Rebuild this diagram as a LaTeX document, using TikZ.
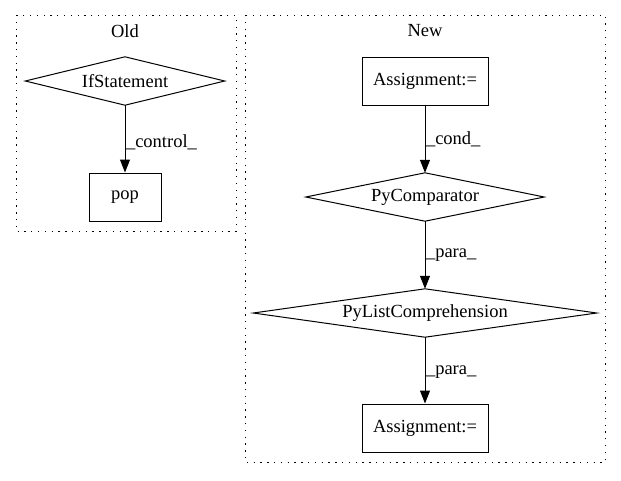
\documentclass[tikz,border=0pt]{standalone}
\usepackage{fontspec}
\setmainfont{Liberation Serif}
\usetikzlibrary{arrows.meta}
\begin{document}
\begin{tikzpicture}[x=1pt,y=-1pt,
  every node/.style={font=\fontsize{18.5}{20}\selectfont},
  cluster/.style={draw, line width=1pt, dash pattern=on 1.3pt off 5.5pt},
  boxnode/.style={draw, line width=1pt, rectangle, inner sep=0, anchor=center},
  decision/.style={rectangle, inner sep=0, anchor=center},
  diamondline/.style={line width=1pt, line join=miter},
  edge/.style={line width=1pt, -{Triangle[length=13pt,width=10pt]}},
  elabel/.style={right, inner sep=0.5pt}]
\useasboundingbox (0,0) rectangle (621,480);
% clusters
\draw[cluster] (16,15) rectangle (236,231);
\node (oldlabel) at (125,31) {Old};
\draw[cluster] (245,15) rectangle (605,462);
\node (newlabel) at (425,31) {New};
% Old nodes
\node[decision, minimum width=199pt, minimum height=48pt] (ifs) at (125,81) {IfStatement};
\draw[diamondline] (ifs.north) -- (ifs.east) -- (ifs.south) -- (ifs.west) -- cycle;
\node[boxnode, minimum width=72pt, minimum height=48pt] (pop) at (125,197) {pop};
% New nodes
\node[boxnode, minimum width=126pt, minimum height=48pt] (asg1) at (425,81) {Assignment:=};
\node[decision, minimum width=238pt, minimum height=48pt] (cmp) at (425,197) {PyComparator};
\draw[diamondline] (cmp.north) -- (cmp.east) -- (cmp.south) -- (cmp.west) -- cycle;
\node[decision, minimum width=343pt, minimum height=48pt] (lc) at (425,313) {PyListComprehension};
\draw[diamondline] (lc.north) -- (lc.east) -- (lc.south) -- (lc.west) -- cycle;
\node[boxnode, minimum width=126pt, minimum height=48pt] (asg2) at (425,428) {Assignment:=};
% edges
\draw[edge] (ifs) -- node[elabel, pos=0.55] {\_control\_} (pop);
\draw[edge] (asg1) -- node[elabel, pos=0.5] {\_cond\_} (cmp);
\draw[edge] (cmp) -- node[elabel, pos=0.5] {\_para\_} (lc);
\draw[edge] (lc) -- node[elabel, pos=0.52] {\_para\_} (asg2);
\end{tikzpicture}
\end{document}
